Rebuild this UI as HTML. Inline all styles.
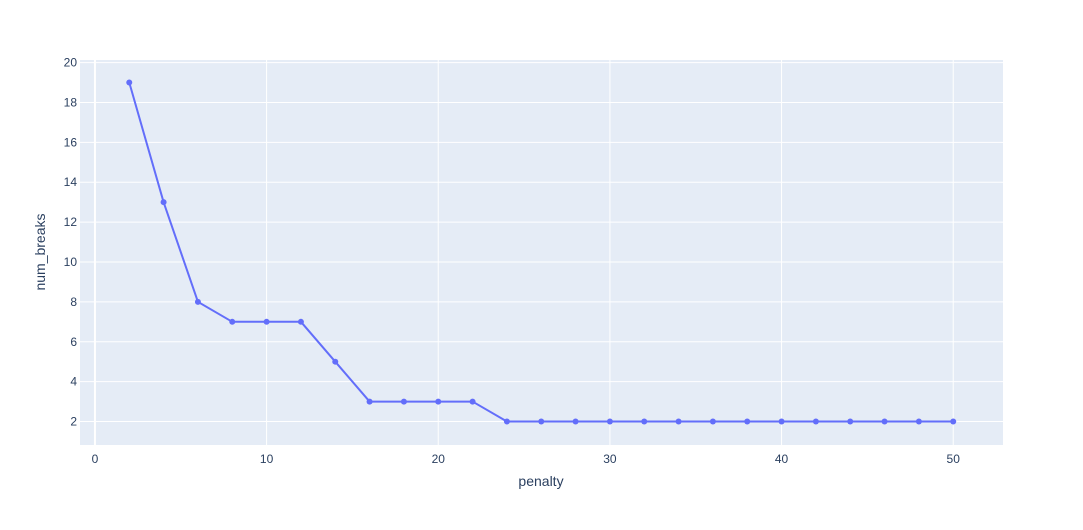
<!DOCTYPE html>
<html><head><meta charset="utf-8"><style>
body{margin:0;background:#fff;font-family:"Liberation Sans",sans-serif;}
text{font-family:"Liberation Sans",sans-serif;fill:#2a3f5f;}
</style></head><body>
<svg width="1083" height="525">
<rect x="80" y="60" width="923" height="385" fill="#e5ecf6"/>
<g id="grid"></g><g id="series"></g><g id="ticks"></g>
<text x="541" y="486" text-anchor="middle" font-size="14">penalty</text>
<text x="45" y="252" text-anchor="middle" font-size="14" transform="rotate(-90 45 252)">num_breaks</text>
</svg>
<script>
const penalty=[2,4,6,8,10,12,14,16,18,20,22,24,26,28,30,32,34,36,38,40,42,44,46,48,50];
const numBreaks=[19,13,8,7,7,7,5,3,3,3,3,2,2,2,2,2,2,2,2,2,2,2,2,2,2];
const xTicks=[0,10,20,30,40,50];
const yTicks=[2,4,6,8,10,12,14,16,18,20];
const L=80,R=1003,T=60,B=445,x0=-0.87,x1=52.9,y0=0.822,y1=20.13;
const sx=v=>L+(v-x0)/(x1-x0)*(R-L), sy=v=>B-(v-y0)/(y1-y0)*(B-T);
const NS="http://www.w3.org/2000/svg";
function mk(t,a,p){const e=document.createElementNS(NS,t);for(const k in a)e.setAttribute(k,a[k]);document.getElementById(p).appendChild(e);return e;}
xTicks.forEach(v=>{
 const g=mk('line',{x1:sx(v),x2:sx(v),y1:T,y2:B,stroke:'#fff','stroke-width':v===0?2:1},'grid');
 
 
 const t=mk('text',{x:sx(v),y:B+18,'text-anchor':'middle','font-size':12},'ticks');t.textContent=v;
 
 
});
yTicks.forEach(v=>{
 const g=mk('line',{x1:L,x2:R,y1:sy(v),y2:sy(v),stroke:'#fff','stroke-width':1},'grid');
 
 
 const t=mk('text',{x:L-3,y:sy(v)+4,'text-anchor':'end','font-size':12},'ticks');t.textContent=v;
 
 
});
const pl=mk('polyline',{points:penalty.map((p,i)=>sx(p)+','+sy(numBreaks[i])).join(' '),fill:'none',stroke:'#636efa','stroke-width':2},'series');


penalty.forEach((p,i)=>{
 const c=mk('circle',{cx:sx(p),cy:sy(numBreaks[i]),r:3,fill:'#636efa'},'series');
 
 
});
</script>
</body></html>
